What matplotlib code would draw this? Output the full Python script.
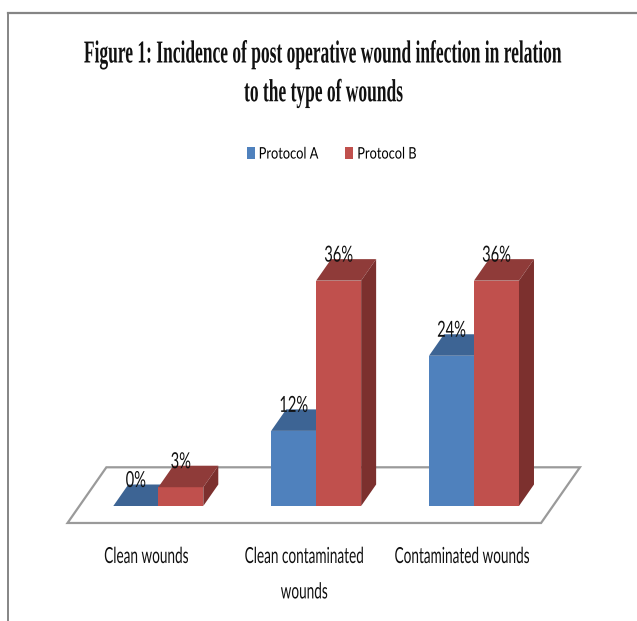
import numpy as np
import matplotlib.pyplot as plt
from matplotlib.patches import Polygon, Patch
from matplotlib.lines import Line2D
from matplotlib.patheffects import AbstractPathEffect
from matplotlib.transforms import Affine2D

title = 'Figure 1: Incidence of post operative wound infection in relation\nto the type of wounds'
categories = ['Clean wounds', 'Clean contaminated\nwounds', 'Contaminated wounds']
series_names = ['Protocol A', 'Protocol B']
protocol_a = [0, 12, 24]
protocol_b = [3, 36, 36]

# front / top / side colours for each series
colors_a = ('#4F81BD', '#3D6494', '#2E4C72')
colors_b = ('#C0504D', '#8F3B39', '#7C302E')


class Stretch(AbstractPathEffect):
    """draw glyphs narrower and taller, like the sideways-compressed source image"""
    def __init__(self, sx, sy=1.0, anchor='center'):
        super().__init__()
        self.sx, self.sy, self.anchor = sx, sy, anchor

    def draw_path(self, renderer, gc, tpath, affine, rgbFace=None):
        ext = tpath.get_extents()
        xc = (ext.x0 + ext.x1) / 2 if self.anchor == 'center' else 0
        t = Affine2D().translate(-xc, 0).scale(self.sx, self.sy).translate(xc, 0)
        renderer.draw_path(gc, tpath, t + affine, rgbFace)


W, H = 637, 621
fig = plt.figure(figsize=(W / 100, H / 100), dpi=100)

# plot area: x in category units, y in percent
x0_px, y0_px = 158.3, 506
cat_px, pct_px = 157.85, 6.26
xlim = (-0.6, 2.6)
ylim = (-8, 62)
left_px = x0_px + xlim[0] * cat_px
bottom_px = y0_px - ylim[0] * pct_px
ax = fig.add_axes([left_px / W, (H - bottom_px) / H,
                   (xlim[1] - xlim[0]) * cat_px / W, (ylim[1] - ylim[0]) * pct_px / H])
ax.set_xlim(xlim)
ax.set_ylim(ylim)
ax.axis('off')

# oblique depth vector of a bar
ddx, ddy = 15 / cat_px, 21.5 / pct_px
bar_w = 0.285
floor_front, floor_back = -0.79, 1.8

# floor
fx = [-0.5, 2.5]
floor = [(fx[0] + floor_front * ddx, floor_front * ddy),
         (fx[1] + floor_front * ddx, floor_front * ddy),
         (fx[1] + floor_back * ddx, floor_back * ddy),
         (fx[0] + floor_back * ddx, floor_back * ddy)]
ax.add_patch(Polygon(floor, closed=True, fc='white', ec='#9A9A9A', lw=1.6, clip_on=False))


def bar3d(x, h, cols):
    fc, tc, sc = cols
    ax.add_patch(Polygon([(x, 0), (x + bar_w, 0), (x + bar_w, h), (x, h)], fc=fc, ec='none'))
    ax.add_patch(Polygon([(x, h), (x + bar_w, h), (x + bar_w + ddx, h + ddy), (x + ddx, h + ddy)],
                         fc=tc, ec='none'))
    ax.add_patch(Polygon([(x + bar_w, 0), (x + bar_w + ddx, ddy), (x + bar_w + ddx, h + ddy),
                          (x + bar_w, h)], fc=sc, ec='none'))
    t = ax.text(x + bar_w / 2, h + ddy - 0.4, f'{h}%', ha='center', va='baseline',
                fontsize=12, family='Lato', color='#111111')
    t.set_path_effects([Stretch(0.88, 1.33)])


for i in range(len(categories)):
    bar3d(i - bar_w, protocol_a[i], colors_a)
    bar3d(i, protocol_b[i], colors_b)

cat_y = (y0_px - 552) / pct_px
for i, cat in enumerate(categories):
    t = ax.text(i + floor_front * ddx, cat_y, cat, ha='center', va='top', fontsize=11,
                family='Lato', color='#111111', linespacing=2.95)
    t.set_path_effects([Stretch(0.89, 1.45)])

# legend
handles = [Patch(fc=colors_a[0]), Patch(fc=colors_b[0])]
leg = fig.legend(handles, series_names, loc='center left',
                 bbox_to_anchor=(246.7 / W, 1 - 154.5 / H), ncol=2, frameon=False,
                 handlelength=0.5, handleheight=0.7, handletextpad=0.25,
                 columnspacing=0.75, borderpad=0, borderaxespad=0,
                 prop={'family': 'Lato', 'size': 11.5})
for t in leg.get_texts():
    t.set_path_effects([Stretch(0.8, 1.0, 'left')])

# title
tt = fig.text(324 / W, 1 - 47.5 / H, title, ha='center', va='top', family='Liberation Serif',
              fontweight='bold', fontsize=16, linespacing=2.25, color='#111111')
tt.set_path_effects([Stretch(0.785, 1.4375)])

# frame of the chart area (cut off at right and bottom)
fig.add_artist(Line2D([8 / W, 1], [1 - 13 / H, 1 - 13 / H], color='#858585', lw=1.6))
fig.add_artist(Line2D([8 / W, 8 / W], [0, 1 - 13 / H], color='#858585', lw=1.4))

fig.savefig('out.png', dpi=100)
